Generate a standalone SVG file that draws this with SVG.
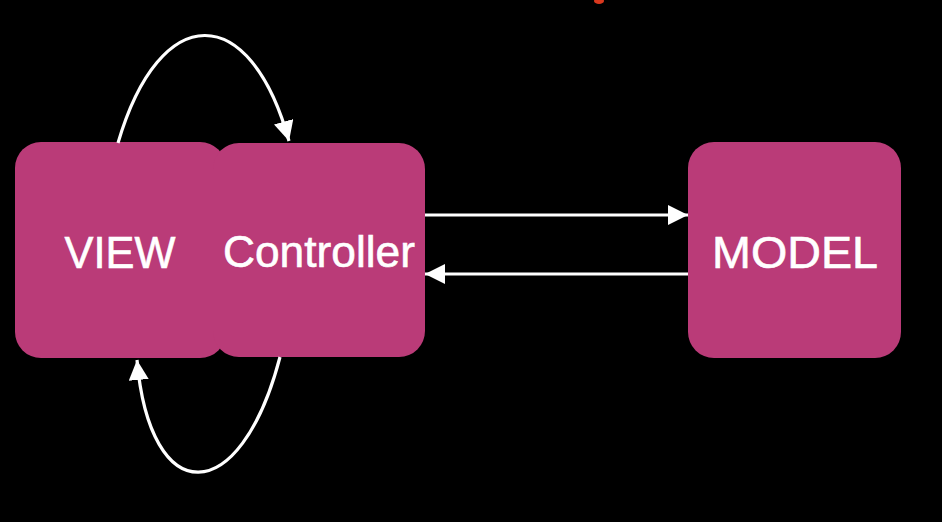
<svg xmlns="http://www.w3.org/2000/svg" width="942" height="522" viewBox="0 0 942 522">
<style>
.box{fill:#BA3B78}
.lbl{fill:#FFFFFF;stroke:#FFFFFF;stroke-width:0.6;font-family:"Liberation Sans",Arial,sans-serif;font-size:45px;text-anchor:middle}
.conn{fill:none;stroke:#FFFFFF;stroke-width:3.2}
</style>
<defs>
<marker id="ah" viewBox="0 0 10 10" refX="10" refY="5" markerWidth="20" markerHeight="20" markerUnits="userSpaceOnUse" orient="auto">
<path d="M0,0 L10,5 L0,10 Z" fill="#FFFFFF"/>
</marker>
</defs>
<rect width="942" height="522" fill="#000000"/>
<ellipse cx="599" cy="1" rx="5" ry="3" fill="#D9381E"/>
<g id="view">
<rect class="box" x="15" y="142" width="211" height="216" rx="26"/>
<text class="lbl" x="120" y="268" textLength="111" lengthAdjust="spacingAndGlyphs">VIEW</text>
</g>
<g id="controller">
<rect class="box" x="213" y="143" width="212" height="214" rx="26"/>
<text class="lbl" x="319" y="267" textLength="192" lengthAdjust="spacingAndGlyphs" font-size="42">Controller</text>
</g>
<g id="model">
<rect class="box" x="688" y="142" width="213" height="216" rx="26"/>
<text class="lbl" x="795" y="268" textLength="166" lengthAdjust="spacingAndGlyphs">MODEL</text>
</g>
<g id="connectors">
<path class="conn" d="M118,143 C160,0 250,0 289,141" marker-end="url(#ah)"/>
<path class="conn" d="M280,357 C240,510 150,510 137,360" marker-end="url(#ah)"/>
<path class="conn" d="M425,215 L688,215" marker-end="url(#ah)"/>
<path class="conn" d="M688,274 L425,274" marker-end="url(#ah)"/>
</g>
</svg>
